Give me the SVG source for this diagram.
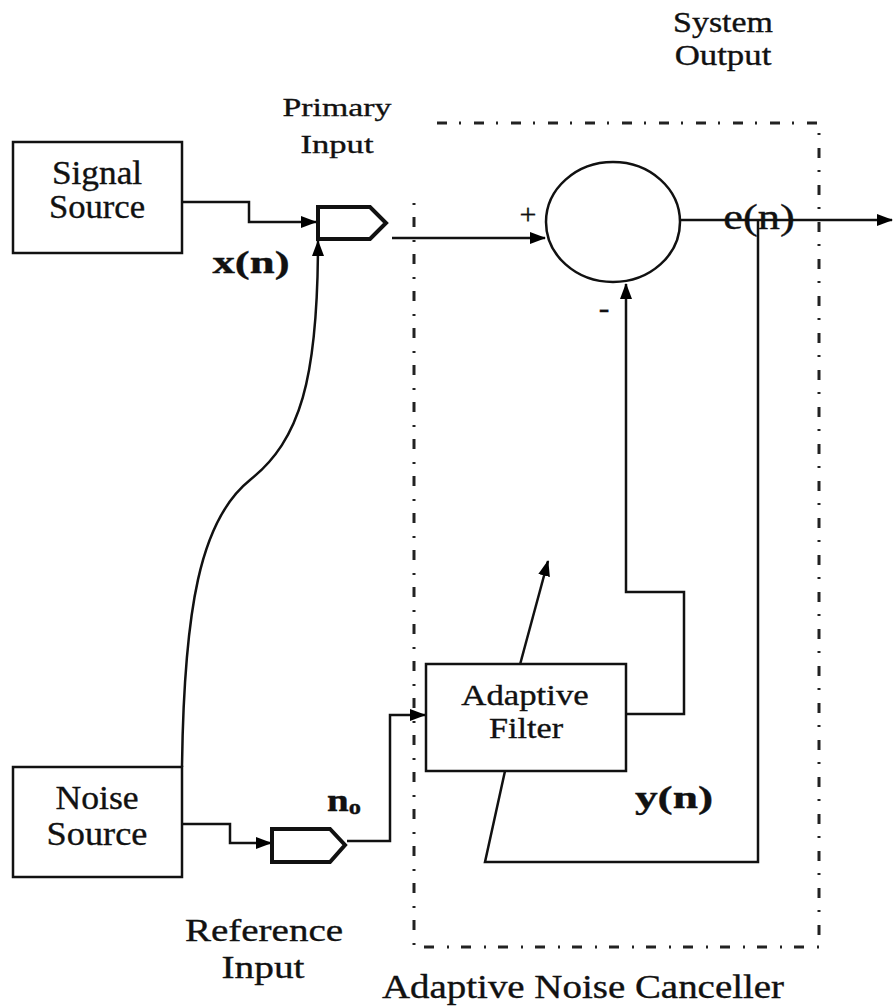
<svg xmlns="http://www.w3.org/2000/svg" width="893" height="1006" viewBox="0 0 893 1006">
<defs>
<marker id="ah" markerWidth="16" markerHeight="12" refX="15" refY="6" orient="auto" markerUnits="userSpaceOnUse">
<path d="M0,0 L16,6 L0,12 Z" fill="#000"/>
</marker>
<style>
.box{fill:#fff;stroke:#111;stroke-width:2.5}
.ln{fill:none;stroke:#111;stroke-width:2.5}
.arr{fill:none;stroke:#111;stroke-width:2.5;marker-end:url(#ah)}
.tap{fill:#fff;stroke:#111;stroke-width:4;stroke-linejoin:miter}
.dd{fill:none;stroke:#222;stroke-width:3;stroke-dasharray:10 12 2 13}
.t{font-family:"Liberation Serif","Times New Roman",serif;fill:#111;stroke:#111;stroke-width:0.35;text-anchor:middle}
.b{font-weight:bold}
</style>
</defs>
<rect width="893" height="1006" fill="#fff"/>

<g id="canceller-frame">
<path class="dd" d="M437,123 H819 V947 H414 V196"/>
<text class="t" transform="translate(583,998) scale(1.18,1)" font-size="33">Adaptive Noise Canceller</text>
</g>

<g id="connectors">
<path class="arr" d="M182,202 H249 V222 H316"/>
<path class="arr" d="M182,767 C184,610 200,520 250,480 C300,440 318,380 318,241"/>
<path class="arr" d="M392,238 H545"/>
<path class="ln" d="M680,220 H876"/>
<path class="arr" d="M876,220 H892"/>
<path class="ln" d="M758,220 V862 H485 L505,771"/>
<path class="arr" d="M626,714 H684 V592 H626 V284"/>
<path class="arr" d="M518,672 L548,561"/>
<path class="arr" d="M182,824 H230 V843 H271"/>
<path class="arr" d="M347,841 H390 V715 H425"/>
</g>

<g id="signal-source">
<rect class="box" x="13" y="142" width="169" height="111"/>
<text class="t" transform="translate(97,184) scale(1.07,1)" font-size="33">Signal</text>
<text class="t" transform="translate(97,218) scale(1.05,1)" font-size="33">Source</text>
</g>

<g id="primary-input">
<path class="tap" d="M318,207 H370 L386,223 L370,239 H318 Z"/>
<text class="t" transform="translate(337,116) scale(1.3,1)" font-size="26">Primary</text>
<text class="t" transform="translate(337,153) scale(1.33,1)" font-size="26">Input</text>
<text class="t b" transform="translate(251,273) scale(1.4,1)" font-size="32">x(n)</text>
</g>

<g id="summer">
<ellipse cx="613" cy="222" rx="67" ry="60" fill="#fff" stroke="#111" stroke-width="2.5"/>
<text class="t" x="528" y="224" font-size="30" fill="#7a6a50" stroke="none">+</text>
<text class="t" x="604" y="318" font-size="32" fill="#7a6a50" stroke="none">-</text>
</g>

<g id="system-output">
<text class="t" transform="translate(759,229) scale(1.27,1)" font-size="35">e(n)</text>
<text class="t" transform="translate(723,32) scale(1.17,1)" font-size="29">System</text>
<text class="t" transform="translate(723,65) scale(1.2,1)" font-size="29">Output</text>
</g>

<g id="adaptive-filter">
<rect class="box" x="426" y="664" width="200" height="107"/>
<text class="t" transform="translate(525,705) scale(1.16,1)" font-size="30">Adaptive</text>
<text class="t" transform="translate(526,738) scale(1.14,1)" font-size="30">Filter</text>
<text class="t b" transform="translate(674,808) scale(1.42,1)" font-size="32">y(n)</text>
</g>

<g id="noise-source">
<rect class="box" x="13" y="767" width="169" height="110"/>
<text class="t" transform="translate(97,809) scale(1.08,1)" font-size="33">Noise</text>
<text class="t" transform="translate(97,845) scale(1.1,1)" font-size="33">Source</text>
</g>

<g id="reference-input">
<path class="tap" d="M272,829 H330 L345,845 L330,862 H272 Z"/>
<text class="t b" transform="translate(344,811) scale(1.22,1)" font-size="32">n<tspan font-size="20" dy="3">o</tspan></text>
<text class="t" transform="translate(264,941) scale(1.22,1)" font-size="32">Reference</text>
<text class="t" transform="translate(263,978) scale(1.23,1)" font-size="32">Input</text>
</g>
</svg>
